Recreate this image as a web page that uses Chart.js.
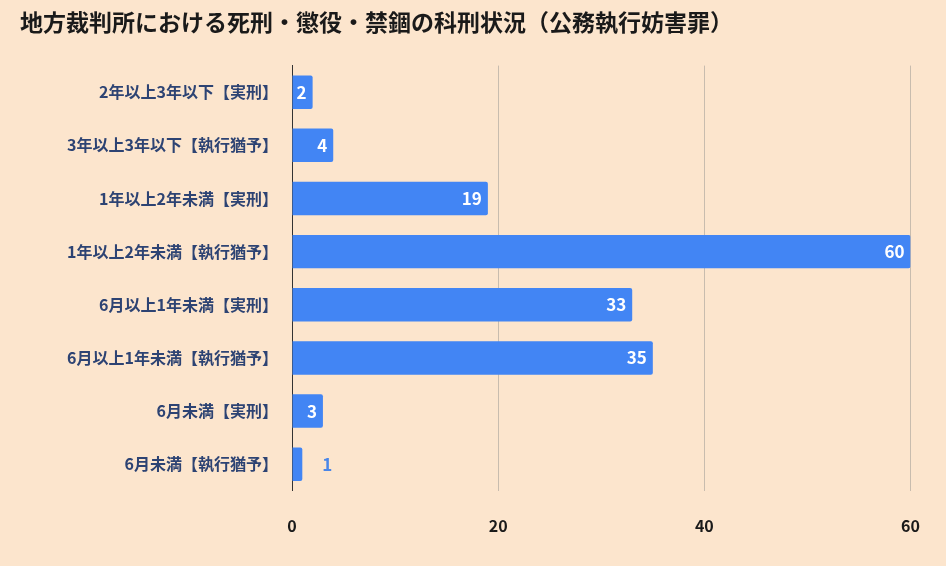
<!DOCTYPE html>
<html>
<head>
<meta charset="utf-8">
<script src="https://cdn.jsdelivr.net/npm/chart.js@4"></script>
<style>
  body { margin: 0; background: #fce5cd; }
  #wrap { width: 946px; height: 566px; position: relative; }
</style>
</head>
<body>
<div id="wrap"><canvas id="chart"></canvas></div>
<script>
const categories = [
  '2年以上3年以下【実刑】',
  '3年以上3年以下【執行猶予】',
  '1年以上2年未満【実刑】',
  '1年以上2年未満【執行猶予】',
  '6月以上1年未満【実刑】',
  '6月以上1年未満【執行猶予】',
  '6月未満【実刑】',
  '6月未満【執行猶予】'
];
const counts = [2, 4, 19, 60, 33, 35, 3, 1];
const xTicks = [0, 20, 40, 60];

const FONT = "'Noto Sans CJK JP', Roboto, sans-serif";

// value labels at the end of each bar
const barLabels = {
  id: 'barLabels',
  afterDatasetsDraw(chart) {
    const ctx = chart.ctx;
    const meta = chart.getDatasetMeta(0);
    ctx.save();
    ctx.font = 'bold 17px ' + FONT;
    ctx.textBaseline = 'middle';
    meta.data.forEach((bar, i) => {
      const txt = String(counts[i]);
      const w = ctx.measureText(txt).width;
      const inside = bar.x - bar.base > w + 10;
      if (inside) {
        ctx.fillStyle = '#ffffff';
        ctx.textAlign = 'right';
        ctx.fillText(txt, bar.x - 6, bar.y);
      } else {
        ctx.fillStyle = '#4a86e8';
        ctx.textAlign = 'left';
        ctx.fillText(txt, bar.x + 20, bar.y);
      }
    });
    ctx.restore();
  }
};

new Chart(document.getElementById('chart'), {
  type: 'bar',
  data: {
    labels: categories,
    datasets: [{
      data: counts,
      backgroundColor: '#4285f4',
      borderRadius: 2,
      barPercentage: 0.63,
      categoryPercentage: 1
    }]
  },
  options: {
    indexAxis: 'y',
    responsive: true,
    maintainAspectRatio: false,
    animation: false,
    layout: { padding: { top: 8, right: 24, bottom: 4, left: 20 } },
    plugins: {
      legend: { display: false },
      tooltip: { enabled: false },
      title: {
        display: true,
        text: '地方裁判所における死刑・懲役・禁錮の科刑状況（公務執行妨害罪）',
        align: 'start',
        color: '#1a1a1a',
        font: { family: FONT, size: 23, weight: 'bold' },
        padding: { top: 0, bottom: 30 }
      }
    },
    scales: {
      x: {
        min: 0,
        max: 60,
        afterBuildTicks: axis => { axis.ticks = xTicks.map(v => ({ value: v })); },
        grid: { color: '#c8bcae', drawTicks: false },
        border: { display: false },
        ticks: {
          color: '#1a1a1a',
          padding: 26,
          font: { family: FONT, size: 16, weight: 'bold' }
        }
      },
      y: {
        afterFit: axis => { axis.width = 272; },
        grid: { display: false, drawTicks: false },
        border: { display: true, color: '#333333', width: 1 },
        ticks: {
          color: '#2d4373',
          padding: 14,
          font: { family: FONT, size: 16, weight: 'bold' }
        }
      }
    }
  },
  plugins: [barLabels]
});
</script>
</body>
</html>
